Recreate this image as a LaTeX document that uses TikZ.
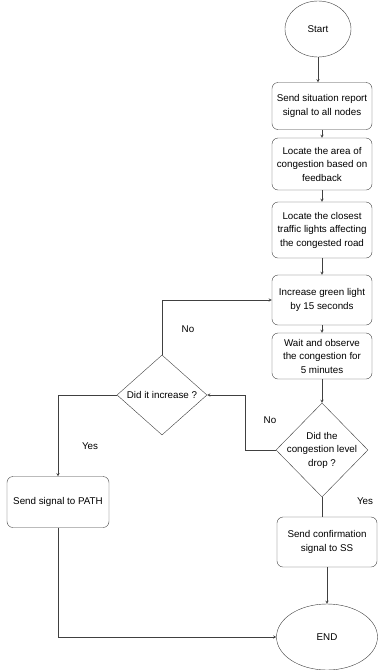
\documentclass[tikz,border=0pt]{standalone}
\usepackage{fontspec}
\setmainfont{Liberation Sans}
\usetikzlibrary{calc}
\usetikzlibrary{positioning}
\usetikzlibrary{shapes.geometric}

\begin{document}
\begin{tikzpicture}[x=1pt, y=-1pt,
  font=\fontsize{9.8}{13.5}\selectfont,
  term/.style={ellipse, draw=black!75, fill=white, minimum width=66pt, minimum height=56pt, inner sep=0pt},
  proc/.style={rectangle, rounded corners=6pt, draw=black!75, fill=white, minimum width=100pt, align=center, inner sep=1pt},
  dec/.style={diamond, draw=black!75, fill=white, inner sep=0pt},
  arr/.style={draw=black!75, -stealth},
  lin/.style={draw=black!75}]

\useasboundingbox (0,0) rectangle (378,670);

\newcommand{\colA}{322}  % 主列的 x
\newcommand{\colB}{327}  % 下部的 x

% 主列
\node[term] (S) at (318,29) {Start};
\node[proc, minimum height=47pt] (B1) at (\colA,106) {Send situation report\\signal to all nodes};
\node[proc, minimum height=52pt] (B2) at (\colA,164) {Locate the area of\\congestion based on\\feedback};
\node[proc, minimum height=56pt] (B3) at (\colA,230) {Locate the closest\\traffic lights affecting\\the congested road};
\node[proc, minimum height=50pt] (B4) at (\colA,300) {Increase green light\\by 15 seconds};
\node[proc, minimum height=46pt] (B5) at (\colA,356) {Wait and observe\\the congestion for\\5 minutes};
\node[dec, minimum width=92pt, minimum height=94pt,
      label={[align=center]center:Did the\\congestion level\\drop ?}] (D2) at (\colA,450) {};
\node[proc, minimum height=50pt] (B6) at (\colB,542) {Send confirmation\\signal to SS};
\node[term, minimum width=101pt, minimum height=66pt] (E) at (\colB,637) {END};

% 左侧
\node[dec, minimum width=90pt, minimum height=80pt,
      label={center:Did it increase ?}] (D1) at (162,395) {};
\node[proc, minimum width=102pt, minimum height=51pt] (B7) at (58,502) {Send signal to PATH};

\coordinate (K) at (245,450);

\draw[arr] (S) -- (S |- B1.north);
\draw[arr] (B1) -- (B2);
\draw[arr] (B2) -- (B3);
\draw[arr] (B3) -- (B4);
\draw[arr] (B4) -- (B5);
\draw[arr] (B5) -- (D2);
\draw[lin] (D2.south) -- (D2.south |- B6.north);
\draw[arr] (B6) -- (E);

\draw[arr] (D1.north) |- (B4.west);
\draw[arr] (D2.west) -- (K) |- (D1.east);
\draw[arr] (D1.west) -| (B7.north);
\draw[arr] (B7.south) |- (E.west);

\node at (188,329) {No};
\node at (270,420) {No};
\node at (90,446) {Yes};
\node at (365,501) {Yes};

\end{tikzpicture}
\end{document}
